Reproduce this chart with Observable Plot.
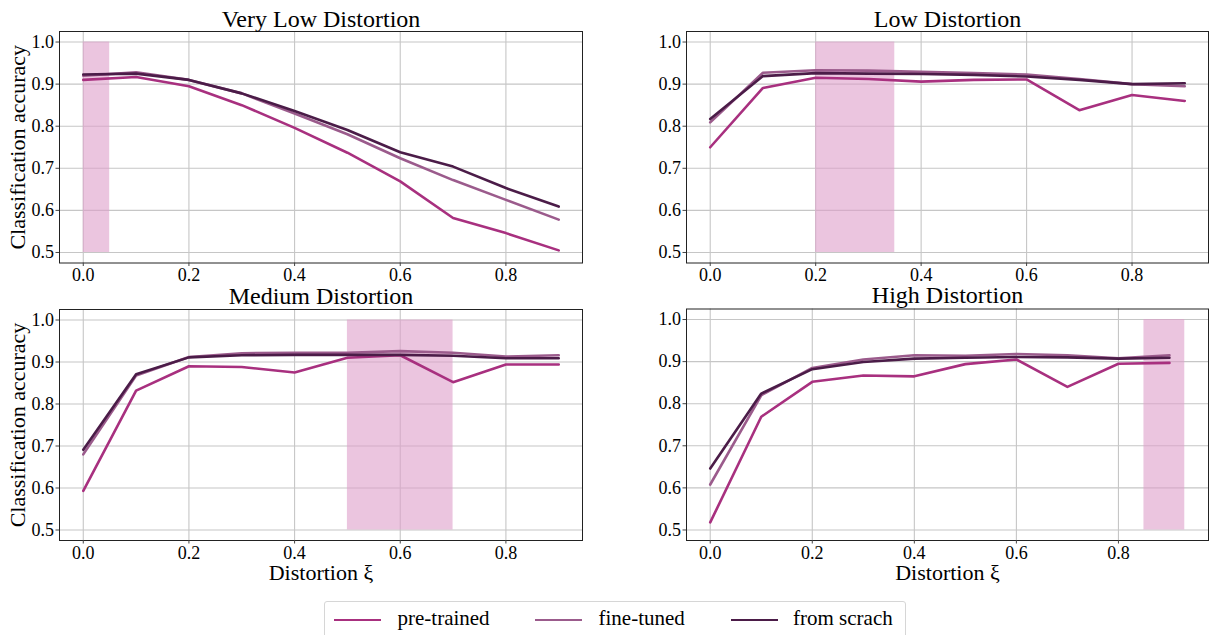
<!DOCTYPE html>
<html><head><meta charset="utf-8">
<script src="https://cdn.jsdelivr.net/npm/d3@7"></script>
<script src="https://cdn.jsdelivr.net/npm/@observablehq/plot@0.6"></script>
<style>
html,body{margin:0;padding:0;background:#fff;}
#root{position:relative;width:1214px;height:635px;overflow:hidden;font-family:"Liberation Serif",serif;}
.panel{position:absolute;}
.panel text{font-family:"Liberation Serif",serif !important;}
.legend{position:absolute;left:324px;top:601px;width:582px;height:44px;border:1px solid #d6d6d6;border-radius:3px;box-sizing:border-box;background:#fff;}
.sw{position:absolute;height:2.5px;width:47px;top:16.5px;}
.lt{position:absolute;top:5.5px;font-family:"Liberation Serif",serif;font-size:21px;line-height:1;color:#000;white-space:nowrap;}
</style></head><body><div id="root"></div>
<script>
const distortion = [0, 0.1, 0.2, 0.3, 0.4, 0.5, 0.6, 0.7, 0.8, 0.9];
const seriesNames = ["pre-trained", "fine-tuned", "from scrach"];
const seriesColors = ["#a8307f", "#9b5b8c", "#4b1c48"];
const panelTitles = ["Very Low Distortion", "Low Distortion", "Medium Distortion", "High Distortion"];

const veryLowPre     = [0.910, 0.917, 0.895, 0.850, 0.796, 0.737, 0.669, 0.582, 0.546, 0.505];
const veryLowFine    = [0.920, 0.928, 0.910, 0.878, 0.830, 0.781, 0.724, 0.672, 0.625, 0.578];
const veryLowScratch = [0.923, 0.925, 0.910, 0.878, 0.836, 0.791, 0.738, 0.704, 0.653, 0.609];

const lowPre     = [0.750, 0.891, 0.915, 0.912, 0.906, 0.910, 0.911, 0.838, 0.874, 0.860];
const lowFine    = [0.809, 0.927, 0.933, 0.932, 0.929, 0.926, 0.923, 0.912, 0.900, 0.895];
const lowScratch = [0.817, 0.919, 0.926, 0.925, 0.924, 0.922, 0.918, 0.910, 0.900, 0.902];

const mediumPre     = [0.593, 0.832, 0.890, 0.888, 0.875, 0.910, 0.916, 0.852, 0.894, 0.894];
const mediumFine    = [0.680, 0.868, 0.912, 0.921, 0.922, 0.922, 0.926, 0.922, 0.913, 0.916];
const mediumScratch = [0.691, 0.871, 0.911, 0.916, 0.917, 0.917, 0.917, 0.915, 0.909, 0.909];

const highPre     = [0.518, 0.769, 0.852, 0.867, 0.865, 0.894, 0.905, 0.840, 0.895, 0.897];
const highFine    = [0.608, 0.820, 0.885, 0.905, 0.915, 0.914, 0.918, 0.915, 0.908, 0.915];
const highScratch = [0.646, 0.824, 0.882, 0.899, 0.907, 0.909, 0.911, 0.910, 0.907, 0.909];

const highlightStart = [0, 0.2, 0.5, 0.85];
const highlightEnd   = [0.05, 0.35, 0.7, 0.93];
const highlightLow = 0.5, highlightHigh = 1.0;

const xTicks = [0, 0.2, 0.4, 0.6, 0.8];
const yTicks = [0.5, 0.6, 0.7, 0.8, 0.9, 1.0];
const xLabel = "Distortion ξ";
const yLabel = "Classification accuracy";

const panelSeries = [
  [veryLowPre, veryLowFine, veryLowScratch],
  [lowPre, lowFine, lowScratch],
  [mediumPre, mediumFine, mediumScratch],
  [highPre, highFine, highScratch]
];

// layout (pixels)
const layout = [
  {left: 0,   top: 0,   height: 290, mL: 59, mR: 25, mT: 31, mB: 27.5, titleDy: -5},
  {left: 607, top: 0,   height: 290, mL: 79, mR: 6,  mT: 31, mB: 27.5, titleDy: -5},
  {left: 0,   top: 290, height: 300, mL: 59, mR: 25, mT: 19, mB: 50,   titleDy: -6},
  {left: 607, top: 290, height: 300, mL: 79, mR: 6,  mT: 18.5, mB: 50, titleDy: -6}
];

const root = document.getElementById("root");
const fontFamily = '"Liberation Serif", serif';

panelSeries.forEach((vals, p) => {
  const rows = [];
  vals.forEach((arr, s) => arr.forEach((v, i) => rows.push({x: distortion[i], y: v, series: seriesNames[s]})));
  const span = [{x1: highlightStart[p], x2: highlightEnd[p], y1: highlightLow, y2: highlightHigh}];
  const lo = Math.min(d3.min(distortion), highlightStart[p]);
  const hi = Math.max(d3.max(distortion), highlightEnd[p]);
  const pad = (hi - lo) * 0.05;
  const L = layout[p];
  const isLeft = p % 2 === 0, isBottom = p >= 2;
  const marks = [
    Plot.gridX(xTicks, {stroke: "#c6c6c6", strokeOpacity: 1, strokeWidth: 1.1}),
    Plot.gridY(yTicks, {stroke: "#c6c6c6", strokeOpacity: 1, strokeWidth: 1.1}),
    Plot.rect(span, {x1: "x1", x2: "x2", y1: "y1", y2: "y2", fill: "rgb(222,158,202)", fillOpacity: 0.6}),
    Plot.line(rows, {x: "x", y: "y", stroke: "series", z: "series", strokeWidth: 2.6}),
    Plot.frame({stroke: "#222", strokeWidth: 1}),
    Plot.axisX(xTicks, {tickFormat: d3.format(".1f"), tickSize: 3.5, tickPadding: 2, fontSize: 18, fontFamily, label: null, stroke: "#444"}),
    Plot.axisY(yTicks, {tickFormat: d3.format(".1f"), tickSize: 3.5, tickPadding: 2, fontSize: 18, fontFamily, label: null, stroke: "#444"}),
    Plot.text([panelTitles[p]], {text: d => d, frameAnchor: "top", lineAnchor: "bottom", dy: L.titleDy, fontSize: 24, fontFamily, fill: "#000"})
  ];
  if (isLeft) marks.push(Plot.text([yLabel], {text: d => d, frameAnchor: "left", rotate: -90, lineAnchor: "bottom", textAnchor: "middle", dx: -35, fontSize: 22, fontFamily, fill: "#000"}));
  if (isBottom) marks.push(Plot.text([xLabel], {text: d => d, frameAnchor: "bottom", lineAnchor: "bottom", dy: 39, fontSize: 22, fontFamily, fill: "#000"}));
  const chart = Plot.plot({
    width: 607, height: L.height,
    marginLeft: L.mL, marginRight: L.mR, marginTop: L.mT, marginBottom: L.mB,
    x: {domain: [lo - pad, hi + pad]},
    y: {domain: [0.475, 1.025]},
    color: {domain: seriesNames, range: seriesColors},
    style: {fontFamily, fontSize: "18px", background: "transparent", overflow: "visible", color: "#000"},
    marks
  });
  chart.classList.add("panel");
  chart.style.left = L.left + "px";
  chart.style.top = L.top + "px";
  root.appendChild(chart);
});

// legend
const legend = document.createElement("div");
legend.className = "legend";
const swX = [8.5, 210, 406];
const txX = [72.5, 273.5, 468];
seriesNames.forEach((name, i) => {
  const sw = document.createElement("div");
  sw.className = "sw"; sw.style.left = swX[i] + "px"; sw.style.background = seriesColors[i];
  const t = document.createElement("span");
  t.className = "lt"; t.style.left = txX[i] + "px"; t.textContent = name;
  legend.appendChild(sw); legend.appendChild(t);
});
root.appendChild(legend);
</script>
</body></html>
